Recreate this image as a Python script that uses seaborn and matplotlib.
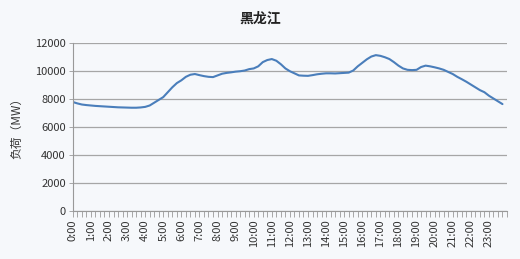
import matplotlib
matplotlib.use("Agg")
import matplotlib.pyplot as plt
import seaborn as sns
import pandas as pd
import numpy as np

title = "黑龙江"
ylabel = "负荷（MW）"
hours = [f"{h}:00" for h in range(24)]
load = [
    7800, 7700, 7620, 7580,
    7550, 7520, 7500, 7480,
    7460, 7440, 7420, 7410,
    7400, 7390, 7390, 7410,
    7450, 7550, 7750, 7950,
    8150, 8500, 8850, 9150,
    9350, 9600, 9750, 9800,
    9720, 9650, 9600, 9580,
    9700, 9820, 9880, 9920,
    9970, 10000, 10050, 10150,
    10200, 10350, 10650, 10800,
    10870, 10750, 10500, 10200,
    10000, 9850, 9700, 9680,
    9670, 9720, 9780, 9820,
    9850, 9850, 9840, 9860,
    9880, 9900, 10050, 10350,
    10600, 10850, 11050, 11150,
    11100, 11000, 10870, 10650,
    10400, 10200, 10100, 10080,
    10100, 10300, 10400, 10350,
    10280, 10200, 10100, 9950,
    9800, 9600, 9430, 9250,
    9050, 8850, 8650, 8500,
    8250, 8050, 7850, 7650,
]

sns.set_theme(style="white")
plt.rcParams['font.family'] = ['Noto Sans CJK SC', 'DejaVu Sans']

bg = "#f6f8fb"
fig = plt.figure(figsize=(5.2, 2.59), dpi=100, facecolor=bg)
ax = fig.add_axes([0.14, 0.185, 0.835, 0.648], facecolor=bg)

df = pd.DataFrame({"t": np.arange(len(load)), "load": load})
sns.lineplot(data=df, x="t", y="load", ax=ax, color="#4a7ebb", linewidth=1.5)

ax.set_xlim(0, 96)
ax.set_ylim(0, 12000)
ax.set_yticks(range(0, 12001, 2000))
ax.yaxis.grid(True, color="#a6a6a6", linewidth=0.9)
ax.set_axisbelow(True)
ax.set_xticks([i * 4 for i in range(24)])
ax.set_xticklabels(hours, rotation=90, fontsize=8, color="#333333")
ax.set_xticks(np.arange(0, 97), minor=True)
ax.tick_params(axis="x", which="both", direction="out", length=4, width=0.6, color="#999999", bottom=True, pad=2)
ax.tick_params(axis="y", labelsize=8, labelcolor="#333333", left=True, length=3, width=0.6, color="#999999", pad=2)

for s in ["top", "right"]:
    ax.spines[s].set_visible(False)
for s in ["left", "bottom"]:
    ax.spines[s].set_color("#999999")
    ax.spines[s].set_linewidth(0.8)

ax.set_xlabel("")
ax.set_ylabel("")
fig.text(0.033, 0.515, ylabel, rotation=90, ha="center", va="center", fontsize=8.5, color="#333333")
fig.text(0.5, 0.93, title, ha="center", va="center", fontsize=10, fontweight="bold", color="#222222")

fig.savefig("out.png", dpi=100, facecolor=bg)
